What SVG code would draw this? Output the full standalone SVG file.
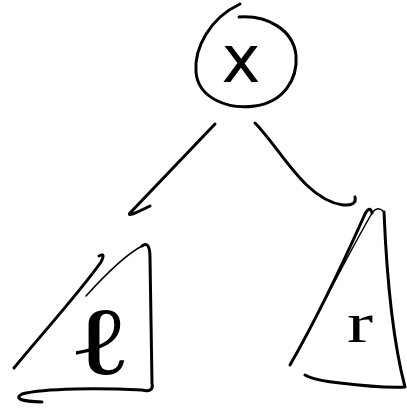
<svg xmlns="http://www.w3.org/2000/svg" width="407" height="412" viewBox="0 0 407 412">
<style>
.s{fill:none;stroke:#000;stroke-width:3;stroke-linecap:round;stroke-linejoin:round}
.t{fill:none;stroke:#000;stroke-width:1.5;stroke-linecap:round}
.lbl{font-family:"Liberation Serif","DejaVu Sans",serif;fill:#000;text-anchor:middle}
.x{font-family:"DejaVu Sans",sans-serif;fill:#000;text-anchor:middle}
</style>
<rect width="407" height="412" fill="#fff"/>
<g id="root">
<path class="s" d="M240,4 C210,18 194,48 196,72 C198,98 228,110 255,106 C283,102 298,80 296,55 C293,30 268,15 239,17"/>
<text class="x" x="241" y="82" font-size="66">x</text>
</g>
<g id="connectors">
<path class="s" d="M215,124 L130,213 Q126,218 150,206"/>
<path class="s" d="M255,123 C280,148 305,200 343,205 Q357,206 355,197"/>
</g>
<g id="left">
<path class="s" d="M14,368 C40,336 80,292 101,262 Q106,252 99,256"/>
<path class="t" d="M86,296 C105,275 125,255 142,246"/>
<path class="s" d="M142,246 Q150,240 150,258 L152,383 Q154,393 142,390 C100,388 45,388 22,394 Q10,401 42,402"/>
<text class="lbl" font-size="96" transform="translate(100,374) scale(1.4,1)">ℓ</text>
</g>
<g id="right">
<path class="s" d="M290,365 C310,330 340,270 365,214 Q370,205 372,213"/>
<path class="t" d="M298,352 C320,310 345,260 372,213 Q378,205 384,212"/>
<path class="s" d="M384,212 C386,260 390,330 405,387 Q380,388 340,383 C320,381 310,378 305,375"/>
<text class="lbl" font-size="56" transform="translate(360,342) scale(1.4,1)">r</text>
</g>
</svg>
